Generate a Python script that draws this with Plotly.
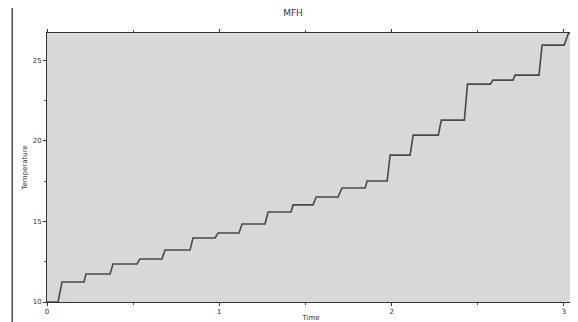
import plotly.graph_objects as go

# Data (time, temperature)
time = [0.000, 0.064, 0.087, 0.215, 0.226, 0.366, 0.383, 0.522, 0.540, 0.667, 0.685,
        0.830, 0.847, 0.975, 0.993, 1.114, 1.132, 1.265, 1.283, 1.416, 1.428, 1.544,
        1.562, 1.689, 1.712, 1.846, 1.858, 1.974, 1.991, 2.107, 2.125, 2.271, 2.288,
        2.422, 2.440, 2.573, 2.588, 2.704, 2.716, 2.855, 2.873, 3.001, 3.024, 3.047]
temperature = [10.00, 10.00, 11.24, 11.24, 11.74, 11.74, 12.36, 12.36, 12.67, 12.67, 13.22,
               13.22, 13.97, 13.97, 14.28, 14.28, 14.84, 14.84, 15.58, 15.58, 16.02, 16.02,
               16.51, 16.51, 17.07, 17.07, 17.50, 17.50, 19.11, 19.11, 20.35, 20.35, 21.28,
               21.28, 23.51, 23.51, 23.76, 23.76, 24.07, 24.07, 25.93, 25.93, 26.61, 26.86]

x_ticks = [0, 1, 2, 3]
x_tick_labels = ["0", "1", "2", "3"]
y_ticks = [10, 15, 20, 25]
y_tick_labels = ["10", "15", "20", "25"]

fig = go.Figure()
fig.add_trace(go.Scatter(x=time, y=temperature, mode="lines",
                         line=dict(color="#3d503d", width=1.6), showlegend=False))

axis_common = dict(showgrid=False, zeroline=False, showline=True, linecolor="#333333",
                   linewidth=1, mirror="ticks", ticks="outside", ticklen=3,
                   tickcolor="#333333", automargin=False,
                   tickfont=dict(family="DejaVu Sans", size=7, color="#333333"))

fig.update_layout(
    width=570, height=314,
    margin=dict(l=39, r=3, t=25, b=20),
    paper_bgcolor="white", plot_bgcolor="#d8d8d8",
    title=dict(text="MFH", x=0.5, xanchor="center", y=0.985, yanchor="middle",
               font=dict(family="DejaVu Sans", size=9, color="#333333")),
    xaxis=dict(range=[0, 3.064], tickvals=x_ticks, ticktext=x_tick_labels,
               minor=dict(ticks="outside", ticklen=2, dtick=0.5, tickcolor="#555555"),
               title=dict(text="Time", font=dict(family="DejaVu Sans", size=7, color="#333333"),
                          standoff=0),
               **axis_common),
    yaxis=dict(range=[10, 26.68], tickvals=y_ticks, ticktext=y_tick_labels,
               minor=dict(ticks="outside", ticklen=2, dtick=2.5, tickcolor="#555555"),
               title=dict(text="Temperature", font=dict(family="DejaVu Sans", size=7, color="#333333"),
                          standoff=4),
               **axis_common),
)

# thin frame line at the left of the picture
fig.add_shape(type="line", xref="paper", yref="paper", x0=-0.066, x1=-0.066,
              y0=-0.08, y1=1.1, line=dict(color="#222222", width=1.2))

fig.write_html("out.html")
